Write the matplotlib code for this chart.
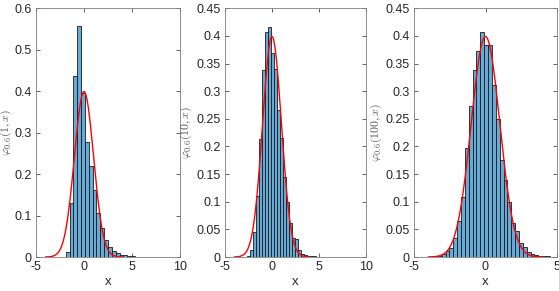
import numpy as np
import matplotlib
matplotlib.use("Agg")
import matplotlib.pyplot as plt

plt.rcParams['font.family'] = ['Liberation Sans', 'DejaVu Sans']
plt.rcParams['mathtext.fontset'] = 'cm'

# ---- data ----
# Panel 1: n = 1
edges1_start, bw1 = -1.9, 0.4
heights1 = [0.013, 0.131, 0.437, 0.557, 0.395, 0.278, 0.220, 0.161, 0.105,
            0.069, 0.041, 0.025, 0.015, 0.009, 0.006, 0.004, 0.003, 0.002,
            0.001, 0.001]
# Panel 2: n = 10
edges2_start, bw2 = -2.66, 0.32
heights2 = [0.002, 0.012, 0.046, 0.110, 0.214, 0.338, 0.407, 0.417, 0.369,
            0.340, 0.266, 0.215, 0.145, 0.100, 0.062, 0.034, 0.032, 0.012,
            0.005, 0.004, 0.002, 0.001, 0.001, 0.0005, 0.0005, 0.0005,
            0.0005, 0.0005, 0.0005, 0.0005]
# Panel 3: n = 100
edges3_start, bw3 = -3.33, 0.27
heights3 = [0.002, 0.005, 0.010, 0.016, 0.034, 0.066, 0.109, 0.198, 0.273,
            0.338, 0.373, 0.408, 0.383, 0.383, 0.311, 0.250, 0.176, 0.140,
            0.100, 0.062, 0.047, 0.025, 0.018, 0.009, 0.005, 0.003, 0.002,
            0.001, 0.002]

ylabels = [r'$\varphi_{0.6}(1,x)$', r'$\varphi_{0.6}(10,x)$', r'$\varphi_{0.6}(100,x)$']
xlims = [(-5, 10), (-5, 10), (-5, 5)]
xticks = [[-5, 0, 5, 10], [-5, 0, 5, 10], [-5, 0, 5]]
ylims = [(0, 0.6), (0, 0.45), (0, 0.45)]
yticks = [[0, 0.1, 0.2, 0.3, 0.4, 0.5, 0.6],
          [0, 0.05, 0.1, 0.15, 0.2, 0.25, 0.3, 0.35, 0.4, 0.45],
          [0, 0.05, 0.1, 0.15, 0.2, 0.25, 0.3, 0.35, 0.4, 0.45]]

# reference density: standard normal
mu, sigma = 0.0, 1.0
xs = np.linspace(-4, 4, 400)
pdf = np.exp(-0.5 * ((xs - mu) / sigma) ** 2) / (sigma * np.sqrt(2 * np.pi))

W, H = 559, 291
fig = plt.figure(figsize=(W / 100, H / 100), dpi=100)
boxes = [(36, 180), (225, 366), (414, 557)]
label_right_px = [14, 194, 384]
top_px, bot_px = 8.3, 257

face = (0.4, 0.668, 0.845)
axcol = '#262626'

datasets = [(edges1_start, bw1, heights1), (edges2_start, bw2, heights2),
            (edges3_start, bw3, heights3)]

for i, ((l, r), (e0, bw, hts)) in enumerate(zip(boxes, datasets)):
    ax = fig.add_axes([l / W, (H - bot_px) / H, (r - l) / W, (bot_px - top_px) / H])
    n = len(hts)
    lefts = e0 + bw * np.arange(n)
    ax.bar(lefts, hts, width=bw, align='edge', color=face,
           edgecolor='#1a1a1a', linewidth=0.6, zorder=2)
    ax.plot(xs, pdf, color='red', linewidth=1.0, zorder=3)
    ax.set_xlim(*xlims[i])
    ax.set_ylim(*ylims[i])
    ax.set_xticks(xticks[i])
    ax.set_xticklabels([str(t) for t in xticks[i]])
    ax.set_yticks(yticks[i])
    ax.set_yticklabels(['0' if t == 0 else ('%g' % t) for t in yticks[i]])
    ax.tick_params(direction='in', length=3, width=0.5, colors=axcol,
                   labelsize=9, top=True, right=True, pad=3)
    for s in ax.spines.values():
        s.set_linewidth(0.6)
        s.set_color('#7f7f7f')
    ax.set_xlabel('x', fontsize=9.5, color=axcol, labelpad=2)
    ax.set_ylabel(ylabels[i], fontsize=8.5, color='#555555')
    ax.yaxis.set_label_coords((label_right_px[i] - l) / (r - l), 0.5)

fig.savefig('out.png', dpi=100)
